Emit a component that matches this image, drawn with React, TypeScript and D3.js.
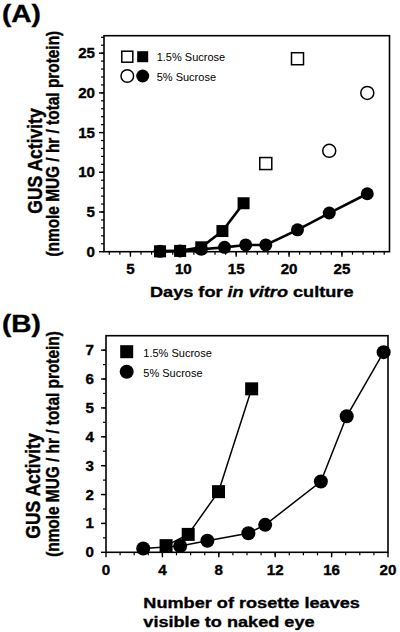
import React from "react";
import * as d3 from "d3";

// ---------- Data ----------
// Panel A: days of in vitro culture
const daysSq15 = [7.8, 9.7, 11.7, 13.7, 15.7];
const gusSq15 = [0.05, 0.1, 0.55, 2.6, 6.1];
const daysCi5 = [7.8, 9.7, 11.7, 13.9, 15.9, 17.8, 20.8, 23.8, 27.4];
const gusCi5 = [0.05, 0.1, 0.3, 0.55, 0.85, 0.85, 2.75, 4.87, 7.3];
const daysOpenSq15 = [17.8, 20.8];
const gusOpenSq15 = [11.1, 24.3];
const daysOpenCi5 = [23.8, 27.4];
const gusOpenCi5 = [12.7, 20.0];
const xTicksA = [5, 10, 15, 20, 25];
const yTicksA = [0, 5, 10, 15, 20, 25];

// Panel B: rosette leaves visible
const leavesSq15 = [4.26, 5.83, 7.98, 10.33];
const gusBSq15 = [0.23, 0.62, 2.1, 5.66];
const leavesCi5 = [2.64, 5.26, 7.19, 10.1, 11.29, 15.24, 17.07, 19.69];
const gusBCi5 = [0.13, 0.22, 0.4, 0.66, 0.95, 2.45, 4.71, 6.93];
const xTicksB = [0, 4, 8, 12, 16, 20];
const yTicksB = [0, 1, 2, 3, 4, 5, 6, 7];

const legendLabels = ["1.5% Sucrose", "5% Sucrose"];

const SX = 1.17;
const FONT = "'Liberation Sans', Arial, Helvetica, sans-serif";

type TProps = {
  x: number;
  y: number;
  size: number;
  anchor?: string;
  weight?: string;
  rot?: boolean;
  sx?: number;
  children?: React.ReactNode;
};
const T = ({ x, y, size, anchor = "start", weight = "bold", rot = false, sx = SX, children }: TProps) => (
  <text
    transform={`translate(${x},${y}) scale(${sx},1)${rot ? " rotate(-90)" : ""}`}
    fontSize={size}
    textAnchor={anchor}
    fontWeight={weight}
    fontFamily={FONT}
    fill="#000"
    stroke="#000"
    strokeWidth={0.35}
  >
    {children}
  </text>
);

function Axes({
  x,
  y,
  xTicks,
  yTicks,
  xMinor,
  yMinor,
  yLabelGap,
}: {
  x: d3.ScaleLinear<number, number>;
  y: d3.ScaleLinear<number, number>;
  xTicks: number[];
  yTicks: number[];
  xMinor: number[];
  yMinor: number[];
  yLabelGap: number;
}) {
  const [x0, x1] = x.range();
  const [y0, y1] = y.range();
  return (
    <g>
      <rect x={x0} y={y1} width={x1 - x0} height={y0 - y1} fill="none" stroke="#000" strokeWidth={1.6} />
      {xMinor.map((v) => (
        <line key={"xm" + v} x1={x(v)} x2={x(v)} y1={y0} y2={y0 + 3} stroke="#000" strokeWidth={1.2} />
      ))}
      {xTicks.map((v) => (
        <line key={"xM" + v} x1={x(v)} x2={x(v)} y1={y0} y2={y0 + 5} stroke="#000" strokeWidth={1.4} />
      ))}
      {yMinor.map((v) => (
        <line key={"ym" + v} x1={x0 - 3} x2={x0} y1={y(v)} y2={y(v)} stroke="#000" strokeWidth={1.2} />
      ))}
      {yTicks.map((v) => (
        <line key={"yM" + v} x1={x0 - 5} x2={x0} y1={y(v)} y2={y(v)} stroke="#000" strokeWidth={1.4} />
      ))}
      {xTicks.map((v) => (
        <T key={"xl" + v} x={x(v)} y={y0 + 22.5} size={14} sx={1.08} anchor="middle">
          {v}
        </T>
      ))}
      {yTicks.map((v) => (
        <T key={"yl" + v} x={x0 - yLabelGap} y={y(v) + 5} size={14} sx={1.08} anchor="end">
          {v}
        </T>
      ))}
    </g>
  );
}

export default function App() {
  // Panel A scales
  const xA = d3.scaleLinear().domain([2.5, 29.5]).range([104, 389.5]);
  const yA = d3.scaleLinear().domain([0, 27.2]).range([251.7, 35.7]);
  // Panel B scales
  const xB = d3.scaleLinear().domain([0, 20]).range([106, 388]);
  const yB = d3.scaleLinear().domain([0, 7.5]).range([552.3, 335.7]);

  const line = d3.line<[number, number]>();

  const ptsA15 = daysSq15.map((d, i) => [xA(d), yA(gusSq15[i])] as [number, number]);
  const ptsA5 = daysCi5.map((d, i) => [xA(d), yA(gusCi5[i])] as [number, number]);
  const ptsB15 = leavesSq15.map((d, i) => [xB(d), yB(gusBSq15[i])] as [number, number]);
  const ptsB5 = leavesCi5.map((d, i) => [xB(d), yB(gusBCi5[i])] as [number, number]);

  const xMinorA = d3.range(3, 30, 1);
  const yMinorA = d3.range(1, 28, 1);
  const xMinorB = d3.range(1, 20, 1);
  const yMinorB = d3.range(0.5, 7.5, 0.5);

  const sqA = 12;
  const rA = 6.5;
  const sqB = 13;
  const rB = 7;

  return (
    <svg
      width={400}
      height={632}
      style={{ position: "absolute", left: 0, top: 0, background: "#fff" }}
    >
      <rect x={0} y={0} width={400} height={632} fill="#fff" />

      {/* ---------- Panel A ---------- */}
      <T x={2} y={22} size={24}>(A)</T>
      <Axes x={xA} y={yA} xTicks={xTicksA} yTicks={yTicksA} xMinor={xMinorA} yMinor={yMinorA} yLabelGap={9} />
      <path d={line(ptsA5) || ""} fill="none" stroke="#000" strokeWidth={2.6} />
      <path d={line(ptsA15) || ""} fill="none" stroke="#000" strokeWidth={2.6} />
      {ptsA5.map(([px, py], i) => (
        <circle key={"ca" + i} cx={px} cy={py} r={rA} fill="#000" />
      ))}
      {ptsA15.map(([px, py], i) => (
        <rect key={"sa" + i} x={px - sqA / 2} y={py - sqA / 2} width={sqA} height={sqA} fill="#000" />
      ))}
      {daysOpenSq15.map((d, i) => (
        <rect
          key={"osa" + i}
          x={xA(d) - sqA / 2}
          y={yA(gusOpenSq15[i]) - sqA / 2}
          width={sqA}
          height={sqA}
          fill="#fff"
          stroke="#000"
          strokeWidth={1.5}
        />
      ))}
      {daysOpenCi5.map((d, i) => (
        <circle key={"oca" + i} cx={xA(d)} cy={yA(gusOpenCi5[i])} r={rA} fill="#fff" stroke="#000" strokeWidth={1.5} />
      ))}
      {/* legend A */}
      <rect x={127.3 - 5.5} y={56.7 - 5.5} width={11} height={11} fill="#fff" stroke="#000" strokeWidth={1.5} />
      <rect x={142.7 - 5.5} y={56.7 - 5.5} width={11} height={11} fill="#000" />
      <circle cx={127.3} cy={76} r={6.3} fill="#fff" stroke="#000" strokeWidth={1.5} />
      <circle cx={142.7} cy={76} r={6.5} fill="#000" />
      <text x={156.7} y={61} fontSize={11} fontFamily={FONT} fill="#000">{legendLabels[0]}</text>
      <text x={156.7} y={80.7} fontSize={11} fontFamily={FONT} fill="#000">{legendLabels[1]}</text>
      {/* titles A */}
      <T x={42} y={161} size={17.5} anchor="middle" rot>GUS Activity</T>
      <T x={59} y={143.7} size={15.4} anchor="middle" rot>(nmole MUG / hr / total protein)</T>
      <T x={150} y={296.7} size={15.5}>
        Days for <tspan fontStyle="italic">in vitro</tspan> culture
      </T>

      {/* ---------- Panel B ---------- */}
      <T x={2} y={332} size={24}>(B)</T>
      <Axes x={xB} y={yB} xTicks={xTicksB} yTicks={yTicksB} xMinor={xMinorB} yMinor={yMinorB} yLabelGap={12} />
      <path d={line(ptsB5) || ""} fill="none" stroke="#000" strokeWidth={1.5} />
      <path d={line(ptsB15) || ""} fill="none" stroke="#000" strokeWidth={1.5} />
      {ptsB5.map(([px, py], i) => (
        <circle key={"cb" + i} cx={px} cy={py} r={rB} fill="#000" />
      ))}
      {ptsB15.map(([px, py], i) => (
        <rect key={"sb" + i} x={px - sqB / 2} y={py - sqB / 2} width={sqB} height={sqB} fill="#000" />
      ))}
      {/* legend B */}
      <rect x={126.7 - 6.5} y={351.7 - 6.5} width={13} height={13} fill="#000" />
      <circle cx={126.7} cy={371.7} r={7} fill="#000" />
      <text x={143.3} y={357.3} fontSize={11} fontFamily={FONT} fill="#000">{legendLabels[0]}</text>
      <text x={143.3} y={377.3} fontSize={11} fontFamily={FONT} fill="#000">{legendLabels[1]}</text>
      {/* titles B */}
      <T x={40} y={486} size={17.5} anchor="middle" rot>GUS Activity</T>
      <T x={59} y={444} size={15.4} anchor="middle" rot>(nmole MUG / hr / total protein)</T>
      <T x={143.3} y={608.3} size={15.5}>Number of rosette leaves</T>
      <T x={143.3} y={626.7} size={15.5}>visible to naked eye</T>
    </svg>
  );
}
